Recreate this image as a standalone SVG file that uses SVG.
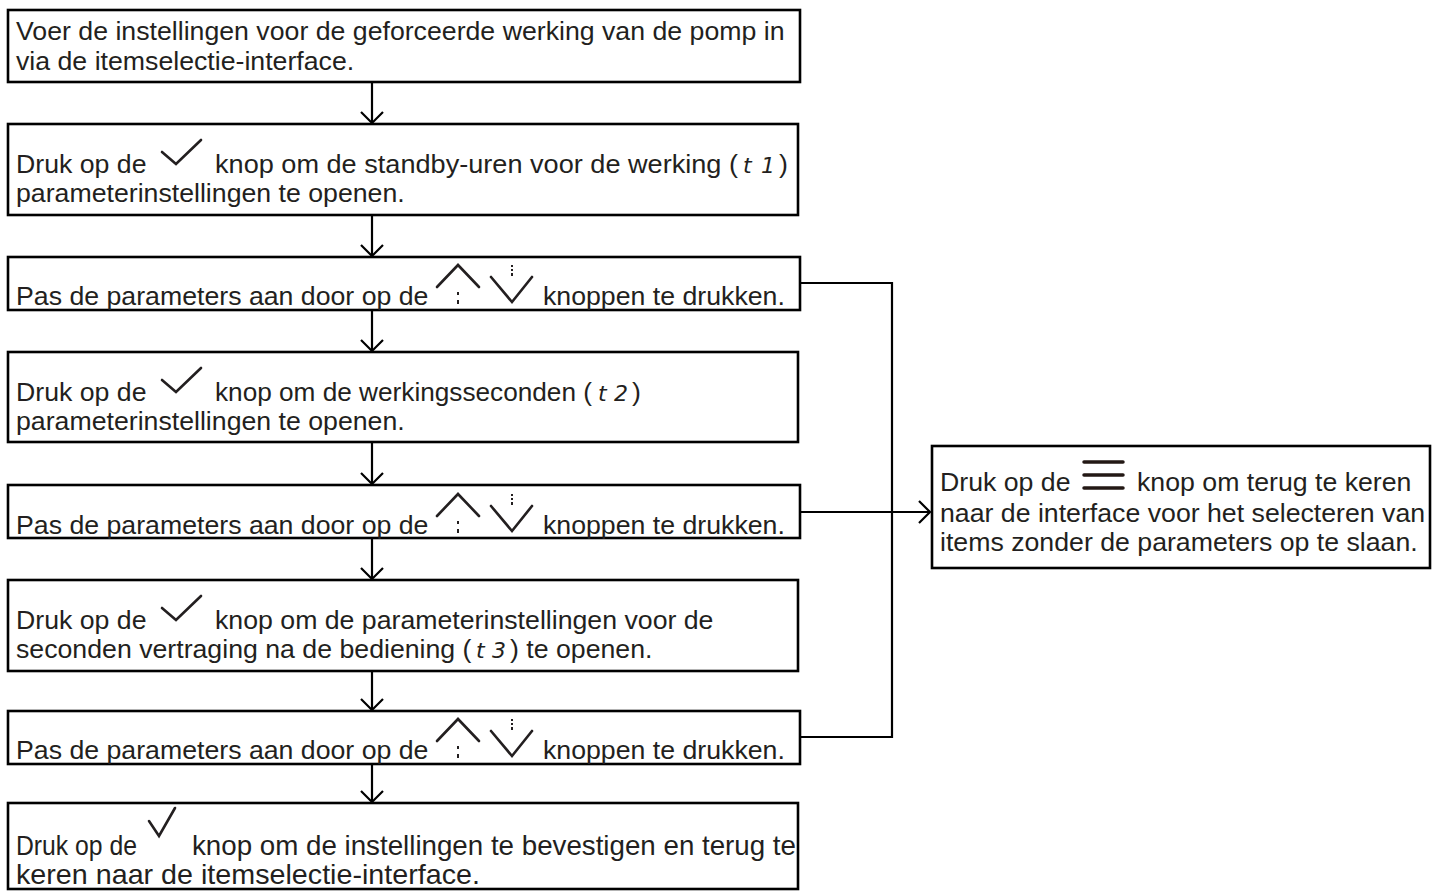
<svg xmlns="http://www.w3.org/2000/svg" width="1449" height="891" viewBox="0 0 1449 891">
<defs>
<style>
.box{fill:#fff;stroke:#000;stroke-width:2.6}
.t{font-family:"Liberation Sans",Arial,sans-serif;font-size:26.7px;fill:#231f20}
.b8{font-family:"Liberation Sans",Arial,sans-serif;font-size:28px;fill:#231f20}
.seg{font-family:"DejaVu Sans",sans-serif;font-size:22px;font-style:italic;font-weight:200;fill:#231f20}
.ln{fill:none;stroke:#000;stroke-width:2.2}
.ic{fill:none;stroke:#231f20;stroke-width:2.6;stroke-linecap:round;stroke-linejoin:miter}
.dot{fill:none;stroke:#231f20;stroke-width:2;stroke-linecap:butt}
.hb{fill:none;stroke:#231815;stroke-width:3.5;stroke-linecap:round}
</style>
<marker id="ah" markerWidth="14" markerHeight="24" refX="12" refY="12" orient="auto" markerUnits="userSpaceOnUse">
<path d="M1,1 L12,12 L1,23" fill="none" stroke="#000" stroke-width="2.2"/>
</marker>
<g id="updown">
<polyline class="ic" points="437,287 458,265 479,287"/>
<line class="dot" x1="458" y1="292" x2="458" y2="295"/>
<line class="dot" x1="458" y1="300" x2="458" y2="304"/>
<polyline class="ic" points="491,277 512,302 532,277"/>
<line class="dot" x1="512" y1="265" x2="512" y2="267"/>
<line class="dot" x1="512" y1="269" x2="512" y2="271"/>
<line class="dot" x1="512" y1="273" x2="512" y2="276"/>
</g>
</defs>

<g id="connectors">
<line class="ln" x1="372" y1="82" x2="372" y2="123" marker-end="url(#ah)"/>
<line class="ln" x1="372" y1="215" x2="372" y2="256" marker-end="url(#ah)"/>
<line class="ln" x1="372" y1="310" x2="372" y2="351" marker-end="url(#ah)"/>
<line class="ln" x1="372" y1="442" x2="372" y2="484" marker-end="url(#ah)"/>
<line class="ln" x1="372" y1="538" x2="372" y2="579" marker-end="url(#ah)"/>
<line class="ln" x1="372" y1="671" x2="372" y2="710" marker-end="url(#ah)"/>
<line class="ln" x1="372" y1="764" x2="372" y2="802" marker-end="url(#ah)"/>
<polyline class="ln" points="800,283 892,283 892,737 800,737"/>
<line class="ln" x1="800" y1="512" x2="930" y2="512" marker-end="url(#ah)"/>
</g>

<g id="n1">
<rect class="box" x="8" y="10" width="792" height="72"/>
<text class="t" x="16" y="40">Voer de instellingen voor de geforceerde werking van de pomp in</text>
<text class="t" x="16" y="70">via de itemselectie-interface.</text>
</g>

<g id="n2">
<rect class="box" x="8" y="124" width="790" height="91"/>
<text class="t" x="16" y="173">Druk op de</text>
<polyline class="ic" points="162,152 176,164 201,140"/>
<text class="t" x="215" y="173" textLength="523" lengthAdjust="spacingAndGlyphs">knop om de standby-uren voor de werking (</text>
<text class="seg" x="743" y="173">t</text>
<text class="seg" x="761" y="173">1</text>
<text class="t" x="779" y="173">)</text>
<text class="t" x="16" y="202">parameterinstellingen te openen.</text>
</g>

<g id="n3">
<rect class="box" x="8" y="257" width="792" height="53"/>
<text class="t" x="16" y="305">Pas de parameters aan door op de</text>
<use href="#updown"/>
<text class="t" x="543" y="305">knoppen te drukken.</text>
</g>

<g id="n4">
<rect class="box" x="8" y="352" width="790" height="90"/>
<text class="t" x="16" y="401">Druk op de</text>
<polyline class="ic" points="162,380 176,392 201,368"/>
<text class="t" x="215" y="401" textLength="377" lengthAdjust="spacingAndGlyphs">knop om de werkingsseconden (</text>
<text class="seg" x="598" y="401">t</text>
<text class="seg" x="614" y="401">2</text>
<text class="t" x="632" y="401">)</text>
<text class="t" x="16" y="430">parameterinstellingen te openen.</text>
</g>

<g id="n5">
<rect class="box" x="8" y="485" width="792" height="53"/>
<text class="t" x="16" y="534">Pas de parameters aan door op de</text>
<use href="#updown" transform="translate(0,229)"/>
<text class="t" x="543" y="534">knoppen te drukken.</text>
</g>

<g id="n6">
<rect class="box" x="8" y="580" width="790" height="91"/>
<text class="t" x="16" y="629">Druk op de</text>
<polyline class="ic" points="162,608 176,620 201,596"/>
<text class="t" x="215" y="629">knop om de parameterinstellingen voor de</text>
<text class="t" x="16" y="658">seconden vertraging na de bediening (</text>
<text class="seg" x="476" y="658">t</text>
<text class="seg" x="492" y="658">3</text>
<text class="t" x="510" y="658">) te openen.</text>
</g>

<g id="n7">
<rect class="box" x="8" y="711" width="792" height="53"/>
<text class="t" x="16" y="759">Pas de parameters aan door op de</text>
<use href="#updown" transform="translate(0,454)"/>
<text class="t" x="543" y="759">knoppen te drukken.</text>
</g>

<g id="n8">
<rect class="box" x="8" y="803" width="790" height="86"/>
<text class="b8" x="16" y="855" textLength="121" lengthAdjust="spacingAndGlyphs">Druk op de</text>
<polyline class="ic" points="149,821 159,836 175,808"/>
<text class="b8" x="192" y="855" textLength="604" lengthAdjust="spacingAndGlyphs">knop om de instellingen te bevestigen en terug te</text>
<text class="b8" x="16" y="884" textLength="464" lengthAdjust="spacingAndGlyphs">keren naar de itemselectie-interface.</text>
</g>

<g id="n9">
<rect class="box" x="932" y="446" width="498" height="122"/>
<text class="t" x="940" y="491">Druk op de</text>
<line class="hb" x1="1084" y1="462" x2="1123" y2="462"/>
<line class="hb" x1="1084" y1="475" x2="1123" y2="475"/>
<line class="hb" x1="1084" y1="488" x2="1123" y2="488"/>
<text class="t" x="1137" y="491">knop om terug te keren</text>
<text class="t" x="940" y="522">naar de interface voor het selecteren van</text>
<text class="t" x="940" y="551">items zonder de parameters op te slaan.</text>
</g>
</svg>
